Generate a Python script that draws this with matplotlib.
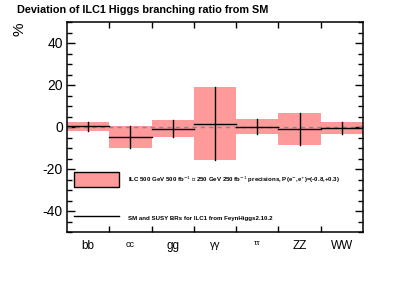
import matplotlib
matplotlib.use("Agg")
import matplotlib.pyplot as plt
from matplotlib.patches import Rectangle
import numpy as np

plt.rcParams['font.family'] = ['Liberation Sans', 'DejaVu Sans']
plt.rcParams['axes.unicode_minus'] = False

channels = ["bb", "cc", "gg", "γγ", "ττ", "ZZ", "WW"]
label_sizes = [8.5, 6.5, 8.5, 7.5, 6, 8.5, 8.5]
central = [0.3, -4.8, -0.8, 1.6, 0.1, -0.9, -0.5]
errors = [2.2, 5.1, 4.0, 17.3, 3.6, 7.6, 3.0]

fig = plt.figure(figsize=(3.95, 2.83), dpi=100)
ax = fig.add_axes([67/395, 1-232/283, 296/395, 210/283])

box_color = '#ff9a9a'
for i, (c, e) in enumerate(zip(central, errors)):
    ax.add_patch(Rectangle((i, c - e), 1, 2 * e, facecolor=box_color,
                           edgecolor='none', zorder=1))
    ax.plot([i, i + 1], [c, c], color='black', lw=1.0, zorder=3)
    ax.plot([i + 0.5, i + 0.5], [c - e, c + e], color='black', lw=1.0, zorder=3)

ax.axhline(0, color='#888888', lw=1.0, ls=(0, (3, 3)), zorder=2)

ax.set_xlim(0, len(channels))
ax.set_ylim(-50, 50)

ax.set_yticks([-40, -20, 0, 20, 40])
ax.set_yticks(np.arange(-50, 51, 5), minor=True)
ax.set_xticks(np.arange(1, len(channels)))
ax.set_xticks(np.arange(len(channels)) + 0.5, minor=True)
ax.set_xticklabels([])
ax.set_xticklabels(channels, minor=True)
for lbl, s in zip(ax.get_xticklabels(minor=True), label_sizes):
    lbl.set_fontsize(s)

ax.tick_params(axis='y', which='major', direction='in', length=6, width=1.0,
               right=True, labelsize=10, pad=3)
ax.tick_params(axis='y', which='minor', direction='in', length=3.5, width=1.0,
               right=True)
ax.tick_params(axis='x', which='major', direction='in', length=4.5, width=1.0,
               top=True, labelbottom=False)
ax.tick_params(axis='x', which='minor', length=0, pad=6)
for sp in ax.spines.values():
    sp.set_linewidth(1.1)

# legend
ax.add_patch(Rectangle((0.17, -28.5), 1.06, 7.3, facecolor=box_color,
                       edgecolor='black', lw=1.0, zorder=4))
ax.plot([0.17, 1.23], [-42.5, -42.5], color='black', lw=1.0, zorder=4)
ax.text(1.45, -25.3,
        "ILC 500 GeV 500 fb$^{-1}$ ⊕ 250 GeV 250 fb$^{-1}$ precisions, P(e$^{-}$,e$^{+}$)=(-0.8,+0.3)",
        fontsize=4.4, fontweight='bold', va='center', ha='left', zorder=5)
ax.text(1.45, -43.5, "SM and SUSY BRs for ILC1 from FeynHiggs2.10.2",
        fontsize=4.4, fontweight='bold', va='center', ha='left', zorder=5)

fig.text(17/395, 1-10/283, "Deviation of ILC1 Higgs branching ratio from SM",
         fontsize=7.8, fontweight='bold', va='center', ha='left')
fig.text(20/395, 1-29/283, "%", fontsize=11, rotation=90, va='center', ha='center')

fig.savefig("out.png", dpi=100)
